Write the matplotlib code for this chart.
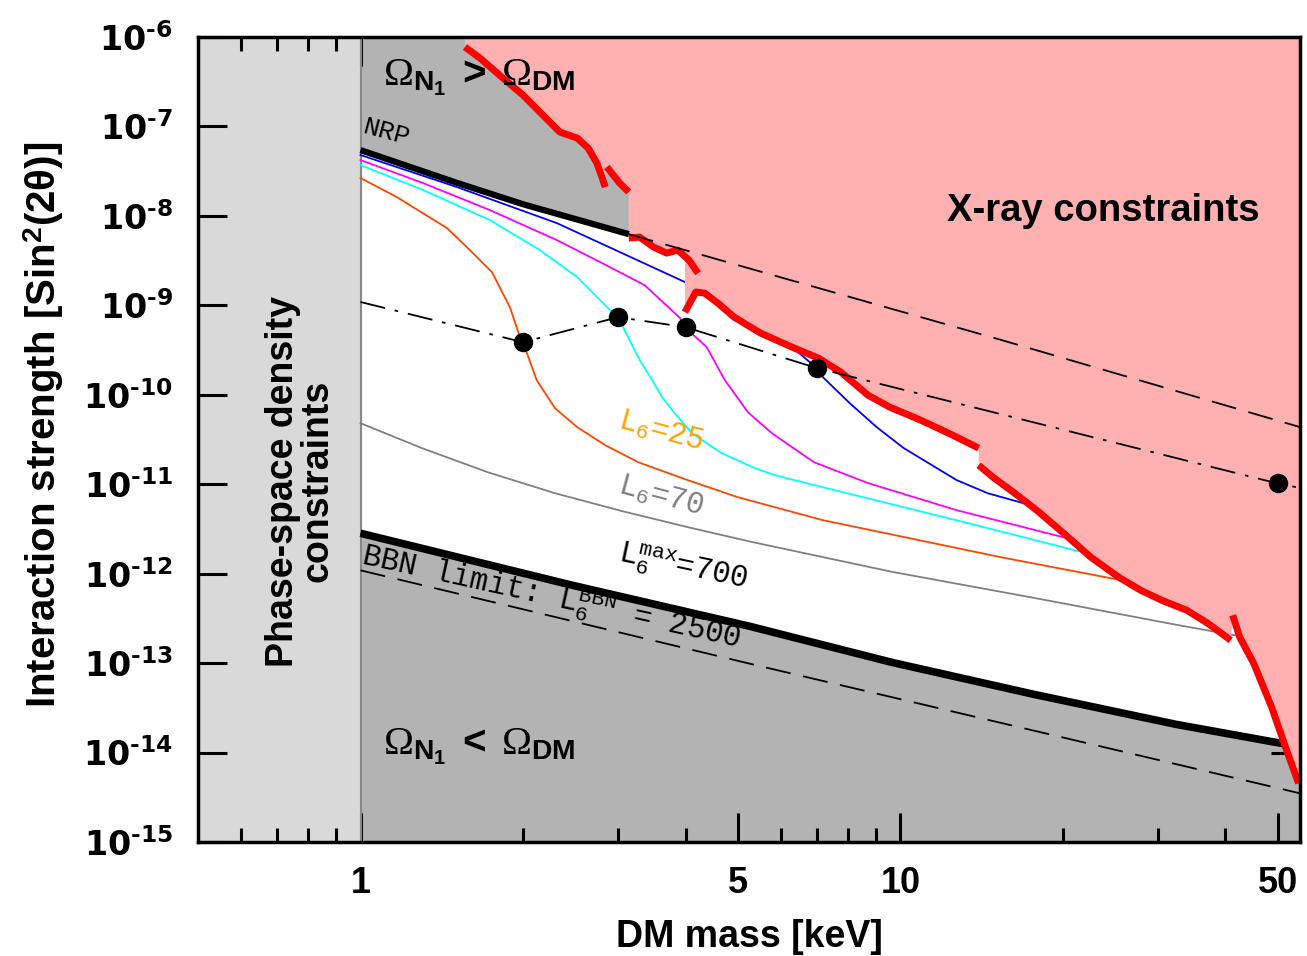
import numpy as np
import matplotlib

matplotlib.use("Agg")
import matplotlib.pyplot as plt
from matplotlib.ticker import FixedLocator, NullLocator

plt.rcParams["mathtext.fontset"] = "custom"
plt.rcParams["mathtext.rm"] = "Liberation Serif"
plt.rcParams["mathtext.it"] = "Liberation Serif:italic"
plt.rcParams["mathtext.bf"] = "Liberation Sans:bold"
plt.rcParams["mathtext.sf"] = "DejaVu Sans:bold"
plt.rcParams["mathtext.tt"] = "Liberation Mono"

XMIN, XMAX = 0.5, 55.0
YMIN, YMAX = 1e-15, 1e-6

# --- X-ray bound (red), drawn as separate pieces ---
red_a_x = [1.561, 1.664, 1.835, 2.00, 2.177, 2.34, 2.52, 2.64, 2.74, 2.80, 2.84]
red_a_y = [7.73e-7, 5.82e-7, 3.48e-7, 2.24e-7, 1.34e-7, 8.65e-8, 7.41e-8, 5.73e-8, 3.90e-8, 2.72e-8, 2.10e-8]
red_b_x = [2.86, 3.02, 3.14]
red_b_y = [3.52e-8, 2.33e-8, 1.85e-8]
red_c_x = [3.14, 3.29, 3.49, 3.69, 3.87, 4.06, 4.22]
red_c_y = [5.65e-9, 5.79e-9, 4.48e-9, 3.84e-9, 4.14e-9, 3.20e-9, 2.29e-9]
red_d_x = [3.99, 4.18, 4.34, 4.59, 4.92, 5.51, 6.30, 7.06, 7.76, 8.71, 9.56, 10.91, 12.51, 13.97]
red_d_y = [8.39e-10, 1.41e-9, 1.37e-9, 1.06e-9, 7.39e-10, 4.89e-10, 3.41e-10, 2.56e-10, 1.79e-10,
           9.9e-11, 7.27e-11, 5.20e-11, 3.53e-11, 2.53e-11]
red_e_x = [13.97, 14.84, 16.29, 17.89, 20.07, 22.53, 25.39, 27.88, 30.50, 33.93, 37.11, 40.93]
red_e_y = [1.63e-11, 1.20e-11, 7.93e-12, 5.12e-12, 2.83e-12, 1.53e-12, 9.12e-13, 6.52e-13,
           5.04e-13, 3.90e-13, 2.79e-13, 1.80e-13]
red_f_x = [41.28, 42.53, 45.14, 48.74, 51.73, 54.68]
red_f_y = [3.43e-13, 1.95e-13, 9.95e-14, 3.21e-14, 1.14e-14, 4.52e-15]

# --- NRP line and its extension ---
nrp_x = [1.0, 1.509, 2.0, 2.66, 3.14]
nrp_y = [5.44e-8, 2.34e-8, 1.35e-8, 8.3e-9, 6.25e-9]
nrp_ext_x = [3.14, 15.42, 55.0]
nrp_ext_y = [6.25e-9, 4.08e-10, 4.35e-11]

# --- BBN lines ---
bbn_x = [1.0, 2.47, 5.26, 9.64, 17.66, 32.37, 49.6, 55.0]
bbn_y = [2.83e-12, 7.41e-13, 2.58e-13, 1.02e-13, 4.48e-14, 2.07e-14, 1.30e-14, 1.17e-14]
bbn_dash_x = [1.0, 5.42, 55.0]
bbn_dash_y = [1.09e-12, 9.44e-14, 3.5e-15]

# --- dash-dot line through the points ---
dd_x = [1.0, 2.0, 3.0, 4.0, 7.0, 50.0, 55.0]
dd_y = [1.09e-9, 3.87e-10, 7.38e-10, 5.70e-10, 1.99e-10, 1.02e-11, 9.1e-12]
dots_x = [2.0, 3.0, 4.0, 7.0, 50.0]
dots_y = [3.87e-10, 7.38e-10, 5.70e-10, 1.99e-10, 1.02e-11]

# --- production curves ---
orange_x = [1.0, 1.168, 1.446, 1.595, 1.752, 1.891, 1.974, 2.0, 2.12, 2.292, 2.52, 2.84, 3.27,
            4.04, 5.0, 5.86, 7.19, 15.42, 25.7]
orange_y = [2.65e-8, 1.62e-8, 7.31e-9, 4.14e-9, 2.35e-9, 9.54e-10, 4.41e-10, 3.87e-10, 1.46e-10,
            7.08e-11, 4.35e-11, 2.73e-11, 1.76e-11, 1.11e-11, 7.16e-12, 5.53e-12, 3.96e-12,
            1.52e-12, 8.43e-13]
cyan_x = [1.0, 1.305, 1.737, 2.149, 2.52, 2.90, 3.0, 3.29, 3.47, 3.62, 3.82, 4.11, 4.67, 5.38,
          5.86, 7.19, 12.72, 22.15]
cyan_y = [3.70e-8, 1.95e-8, 8.97e-9, 4.14e-9, 2.07e-9, 8.83e-10, 7.38e-10, 2.44e-10, 1.46e-10,
          9.4e-11, 6.22e-11, 3.72e-11, 2.22e-11, 1.51e-11, 1.26e-11, 9.25e-12, 3.95e-12, 1.69e-12]
magenta_x = [1.0, 1.305, 1.737, 2.311, 2.78, 3.36, 3.91, 3.99, 4.38, 4.73, 5.22, 5.78, 6.92, 8.71,
             12.72, 20.07]
magenta_y = [4.21e-8, 2.33e-8, 1.16e-8, 5.36e-9, 3.04e-9, 1.68e-9, 7.19e-10, 5.70e-10, 3.40e-10,
             1.46e-10, 6.38e-11, 3.72e-11, 1.76e-11, 1.03e-11, 5.12e-12, 2.55e-12]
blue_x = [1.0, 1.509, 2.311, 2.78, 3.99, 6.40, 7.0, 7.19, 8.06, 9.04, 10.15, 12.72, 14.52, 16.93]
blue_y = [4.79e-8, 2.10e-8, 8.30e-9, 4.97e-9, 1.82e-9, 3.15e-10, 1.99e-10, 1.57e-10, 8.05e-11,
          4.35e-11, 2.53e-11, 1.11e-11, 7.93e-12, 6.12e-12]
gray_x = [1.0, 1.30, 1.722, 2.292, 3.05, 4.04, 5.26, 9.64, 17.66, 32.37, 42.53]
gray_y = [4.81e-11, 2.53e-11, 1.36e-11, 7.94e-12, 5.01e-12, 3.31e-12, 2.29e-12, 1.05e-12,
          5.37e-13, 2.69e-13, 2.0e-13]

x_major = [1, 5, 10, 50]
x_major_labels = ["1", "5", "10", "50"]
x_minor = [0.6, 0.7, 0.8, 0.9, 2, 3, 4, 6, 7, 8, 9, 20, 30, 40]
y_exponents = list(range(-15, -5))

PINK = "#ffb0b0"
DGRAY = "#b3b3b3"
LGRAY = "#d9d9d9"
HYPHEN = "\u2010"
MONO = "Liberation Mono"


def log_interp(x0, xs, ys):
    return 10 ** np.interp(np.log10(x0), np.log10(xs), np.log10(ys))


fig = plt.figure(figsize=(13.07, 9.56), dpi=100)
ax = fig.add_axes([198 / 1307, 1 - 842 / 956, 1102 / 1307, 805 / 956])
ax.set_xscale("log")
ax.set_yscale("log")
ax.set_xlim(XMIN, XMAX)
ax.set_ylim(YMIN, YMAX)

# shaded regions
ax.axvspan(XMIN, 1.0, color=LGRAY, lw=0, zorder=1)
ax.axvline(1.0, color="#888888", lw=1.5, zorder=2)
ax.fill_between(nrp_x, nrp_y, YMAX, color=DGRAY, lw=0, zorder=1)
ax.fill_between(bbn_x, YMIN, bbn_y, color=DGRAY, lw=0, zorder=1)

# thin curves
ax.plot(orange_x, orange_y, color="#ff4500", lw=1.3, zorder=2)
ax.plot(cyan_x, cyan_y, color="#00ffff", lw=1.3, zorder=2)
ax.plot(magenta_x, magenta_y, color="#ff00ff", lw=1.3, zorder=2)
ax.plot(blue_x, blue_y, color="#0000ff", lw=1.3, zorder=2)
ax.plot(gray_x, gray_y, color="#808080", lw=1.3, zorder=2)

# X-ray excluded area
c_x = np.array(red_c_x)
c_y = np.array(red_c_y)
keep = c_x < red_d_x[0]
c_cut = log_interp(red_d_x[0], red_c_x, red_c_y)
poly_x = np.concatenate([red_a_x, red_b_x, c_x[keep], [red_d_x[0]], red_d_x, red_e_x, red_f_x,
                         [XMAX, XMAX, red_a_x[0]]])
poly_y = np.concatenate([red_a_y, red_b_y, c_y[keep], [c_cut], red_d_y, red_e_y, red_f_y,
                         [red_f_y[-1], YMAX, YMAX]])
ax.fill(poly_x, poly_y, color=PINK, lw=0, zorder=3)

for sx, sy in [(red_a_x, red_a_y), (red_b_x, red_b_y), (red_c_x, red_c_y),
               (red_d_x, red_d_y), (red_e_x, red_e_y), (red_f_x, red_f_y)]:
    ax.plot(sx, sy, color="red", lw=5, solid_capstyle="butt", solid_joinstyle="round", zorder=4)

# black lines
ax.plot(nrp_x, nrp_y, color="black", lw=4.5, solid_capstyle="butt", zorder=5)
ax.plot(nrp_ext_x, nrp_ext_y, color="black", lw=1.3, dashes=[14, 7], zorder=5)
ax.plot(bbn_x, bbn_y, color="black", lw=5.5, solid_capstyle="butt", zorder=2.5)
ax.plot(bbn_dash_x, bbn_dash_y, color="black", lw=1.3, dashes=[14, 7], zorder=2.5)
ax.plot(dd_x, dd_y, color="black", lw=1.3, dashes=[14, 5.5, 2, 5.5], zorder=5)
ax.plot(dots_x, dots_y, "o", color="black", ms=13, zorder=6)

# axes styling
for sp in ax.spines.values():
    sp.set_linewidth(2.5)
    sp.set_zorder(10)
ax.xaxis.set_major_locator(FixedLocator(x_major))
ax.xaxis.set_minor_locator(FixedLocator(x_minor))
ax.set_xticklabels(x_major_labels)
ax.yaxis.set_major_locator(FixedLocator([10.0 ** e for e in y_exponents]))
ax.yaxis.set_minor_locator(NullLocator())
ax.set_yticklabels(["$\\mathsf{10^{%s%d}}$" % (HYPHEN, -e) for e in y_exponents])
ax.tick_params(which="both", direction="in", top=True, right=True, width=2.2, zorder=10)
ax.tick_params(which="major", length=21)
ax.tick_params(which="minor", length=10)
ax.tick_params(axis="x", which="major", pad=17)
ax.tick_params(axis="y", which="major", pad=18)
for lab in ax.get_xticklabels():
    lab.set_fontfamily("Liberation Sans")
    lab.set_fontweight("bold")
    lab.set_fontsize(26)
for lab in ax.get_yticklabels():
    lab.set_fontsize(24)

fig.text(749 / 1307, 1 - 937 / 956, "DM mass [keV]", ha="center", va="center",
         fontsize=27, fontweight="bold", family="Liberation Sans")
fig.text(44 / 1307, 1 - 425 / 956, r"Interaction strength [Sin$^\mathbf{2}$(2θ)]",
         ha="center", va="center", rotation=90, fontsize=29, fontweight="bold",
         family="Liberation Sans")

# annotations
tA = ax.transAxes
ax.text(0.0925, 0.4484, "Phase-space density\nconstraints", transform=tA, rotation=90,
        ha="center", va="center", multialignment="center", linespacing=0.95,
        fontsize=27, fontweight="bold", family="Liberation Sans", zorder=7)
ax.text(0.9637, 0.7835, "X-ray constraints", transform=tA, ha="right", va="center",
        fontsize=27.5, fontweight="bold", family="Liberation Sans", zorder=7)
ax.text(0.1679, 0.9391, r"$\Omega_{\mathbf{N_1}}\ \mathbf{>}\ \Omega_{\mathbf{DM}}$", transform=tA,
        ha="left", va="baseline", fontsize=29, zorder=7)
ax.text(0.1679, 0.1081, r"$\Omega_{\mathbf{N_1}}\ \mathbf{<}\ \Omega_{\mathbf{DM}}$", transform=tA,
        ha="left", va="baseline", fontsize=29, zorder=7)
ax.text(0.1488, 0.8807, "NRP", transform=tA, ha="left", va="baseline", family=MONO,
        rotation=-15, rotation_mode="anchor", fontsize=19, zorder=7)
ax.text(0.3802, 0.5143, r"L$_\mathtt{6}$=25", transform=tA, ha="left", va="baseline",
        family=MONO, rotation=-15, rotation_mode="anchor", fontsize=22, color="#ffa500",
        zorder=7)
ax.text(0.3802, 0.4335, r"L$_\mathtt{6}$=70", transform=tA, ha="left", va="baseline",
        family=MONO, rotation=-15, rotation_mode="anchor", fontsize=22, color="#808080",
        zorder=7)
ax.text(0.3802, 0.3478, r"L$_\mathtt{6}^\mathtt{max}$=700", transform=tA, ha="left",
        va="baseline", family=MONO, rotation=-12, rotation_mode="anchor", fontsize=22,
        color="black", zorder=7)
ax.text(0.1470, 0.3441, r"BBN limit: L$_\mathtt{6}^\mathtt{BBN}$ = 2500", transform=tA,
        ha="left", va="baseline", family=MONO, rotation=-12.5, rotation_mode="anchor",
        fontsize=22, color="black", zorder=7)

fig.savefig("out.png", dpi=100)
